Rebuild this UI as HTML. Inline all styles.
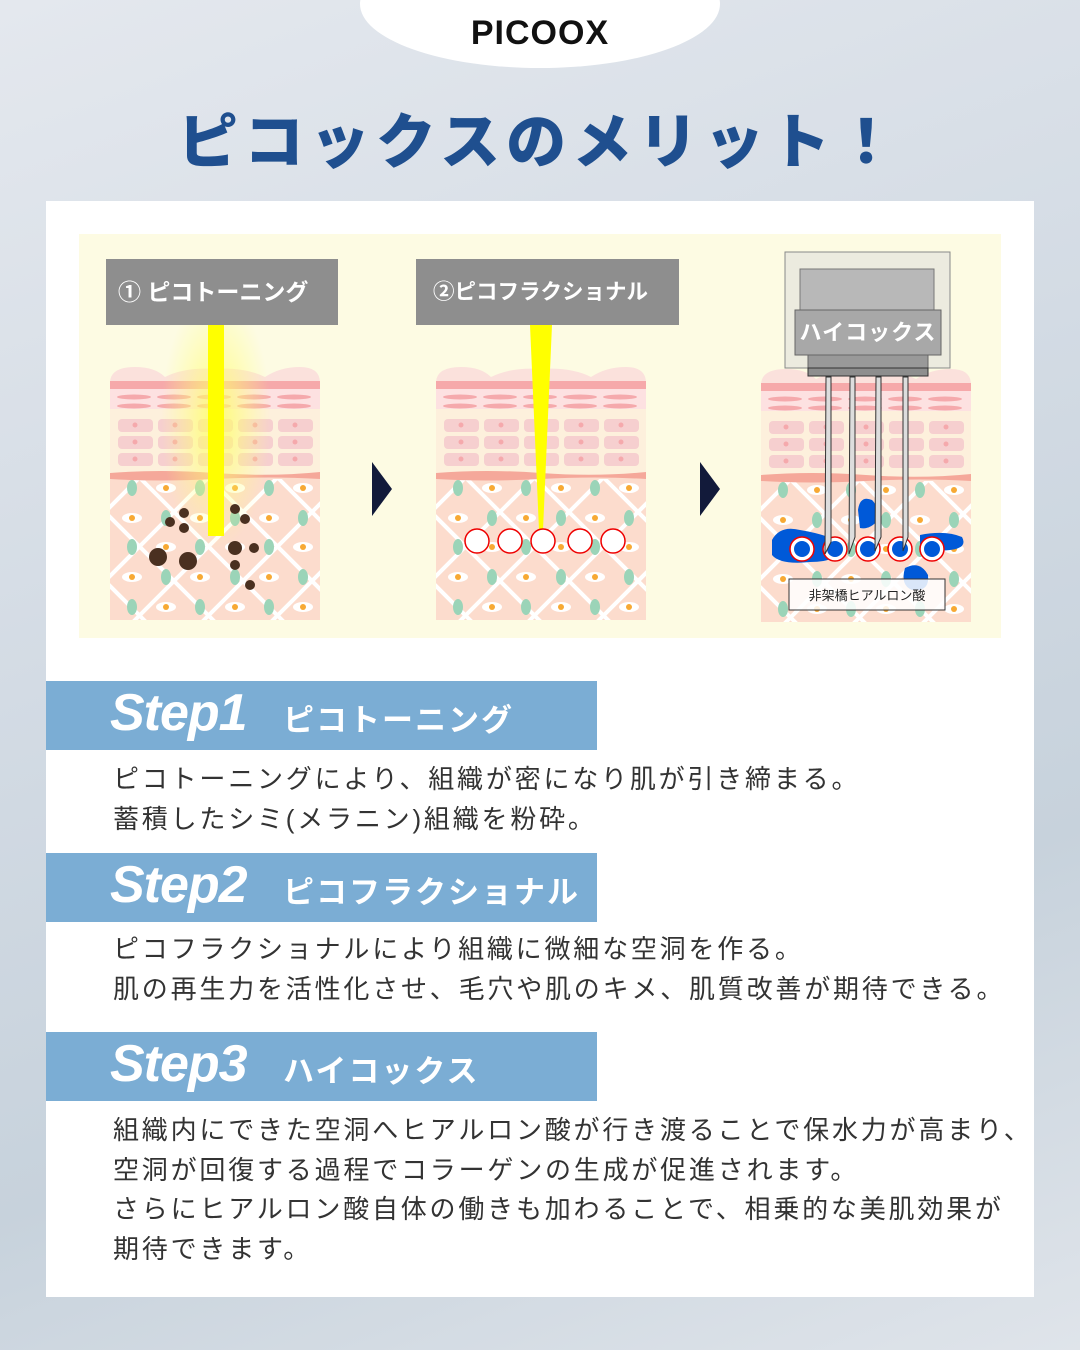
<!DOCTYPE html>
<html><head><meta charset="utf-8"><style>
*{margin:0;padding:0;box-sizing:border-box}
body{width:1080px;height:1350px;overflow:hidden;font-family:"Liberation Sans","Noto Sans CJK JP",sans-serif;background:linear-gradient(160deg,#e4e8ee 0%,#d3dbe4 40%,#c7d2dc 70%,#dfe4ea 100%);position:relative}
.abs{position:absolute}
.hdr{left:360px;top:-60px;width:360px;height:128px;border-radius:50%;background:#fff}
.pic{left:0;width:1080px;top:14px;text-align:center;font-size:34px;font-weight:bold;color:#111;letter-spacing:1px}
.title{left:0;width:1080px;top:94px;text-align:center;font-size:60px;font-weight:900;color:#1f4f8f;letter-spacing:6px}
.panel{left:46px;top:201px;width:988px;height:1096px;background:#fff}
.cream{left:79px;top:234px;width:922px;height:404px;background:#fdfbe3}
.lab{background:#8e8e8e;color:#fff;font-weight:bold;line-height:66px;height:66px;white-space:nowrap;overflow:hidden}
.bar{left:46px;width:551px;height:69px;background:#7badd4;color:#fff}
.bar .s{position:absolute;left:64px;top:2px;font-size:52px;font-weight:bold;font-style:italic;letter-spacing:-1px}
.bar .j{position:absolute;left:237px;top:14px;font-size:31px;font-weight:bold;letter-spacing:2px;white-space:nowrap}
.txt{left:113px;font-size:26px;color:#333;line-height:39.5px;letter-spacing:2.8px;white-space:nowrap}
</style></head><body>
<div class="abs hdr"></div>
<div class="abs pic">PICOOX</div>
<div class="abs title">ピコックスのメリット！</div>
<div class="abs panel"></div>
<div class="abs cream"></div>

<svg class="abs" style="left:0;top:0" width="1080" height="700">
<defs>
<radialGradient id="glow" cx="0.5" cy="0.5" r="0.5"><stop offset="0" stop-color="#ffff60" stop-opacity="0.85"/><stop offset="1" stop-color="#ffff80" stop-opacity="0"/></radialGradient>
<clipPath id="dc"><rect x="0" y="112" width="210" height="141"/></clipPath>
<g id="skin">
<path d="M0 16 Q0 0 25 0 Q45 0 55 10 Q75 0 105 2 Q135 0 155 10 Q170 0 190 0 Q210 0 210 16Z" fill="#fbe1dc"/>
<rect x="0" y="14" width="210" height="8" fill="#f6a9aa"/>
<rect x="0" y="22" width="210" height="20" fill="#fde1e1"/>
<g fill="#f5a9ac">
<ellipse cx="24" cy="30" rx="17" ry="2.5"/><ellipse cx="64" cy="30" rx="17" ry="2.5"/><ellipse cx="104" cy="30" rx="17" ry="2.5"/><ellipse cx="144" cy="30" rx="17" ry="2.5"/><ellipse cx="184" cy="30" rx="17" ry="2.5"/>
<ellipse cx="24" cy="39" rx="17" ry="2.5"/><ellipse cx="64" cy="39" rx="17" ry="2.5"/><ellipse cx="104" cy="39" rx="17" ry="2.5"/><ellipse cx="144" cy="39" rx="17" ry="2.5"/><ellipse cx="184" cy="39" rx="17" ry="2.5"/>
</g>
<rect x="0" y="42" width="210" height="68" fill="#fdf0dc"/>
<g fill="#f6cfcf">
<rect x="8" y="52" width="35" height="13" rx="4"/><rect x="48" y="52" width="35" height="13" rx="4"/><rect x="88" y="52" width="35" height="13" rx="4"/><rect x="128" y="52" width="35" height="13" rx="4"/><rect x="168" y="52" width="35" height="13" rx="4"/>
<rect x="8" y="69" width="35" height="13" rx="4"/><rect x="48" y="69" width="35" height="13" rx="4"/><rect x="88" y="69" width="35" height="13" rx="4"/><rect x="128" y="69" width="35" height="13" rx="4"/><rect x="168" y="69" width="35" height="13" rx="4"/>
<rect x="8" y="86" width="35" height="13" rx="4"/><rect x="48" y="86" width="35" height="13" rx="4"/><rect x="88" y="86" width="35" height="13" rx="4"/><rect x="128" y="86" width="35" height="13" rx="4"/><rect x="168" y="86" width="35" height="13" rx="4"/>
</g>
<g fill="#f5a9ac">
<circle cx="25" cy="58" r="2.5"/><circle cx="65" cy="58" r="2.5"/><circle cx="105" cy="58" r="2.5"/><circle cx="145" cy="58" r="2.5"/><circle cx="185" cy="58" r="2.5"/>
<circle cx="25" cy="75" r="2.5"/><circle cx="65" cy="75" r="2.5"/><circle cx="105" cy="75" r="2.5"/><circle cx="145" cy="75" r="2.5"/><circle cx="185" cy="75" r="2.5"/>
<circle cx="25" cy="92" r="2.5"/><circle cx="65" cy="92" r="2.5"/><circle cx="105" cy="92" r="2.5"/><circle cx="145" cy="92" r="2.5"/><circle cx="185" cy="92" r="2.5"/>
</g>
<rect x="0" y="110" width="210" height="143" fill="#fcdccd"/>
<g clip-path="url(#dc)" stroke="#fff" stroke-width="4">
<path d="M-120 260 L40 100 M-51 260 L109 100 M18 260 L178 100 M87 260 L247 100 M156 260 L316 100 M225 260 L385 100"/>
<path d="M-50 100 L110 260 M19 100 L179 260 M88 100 L248 260 M157 100 L317 260 M-119 100 L41 260"/>
</g>
<g fill="#9bd4b8">
<ellipse cx="22" cy="121" rx="5" ry="8"/><ellipse cx="90" cy="121" rx="5" ry="8"/><ellipse cx="159" cy="121" rx="5" ry="8"/>
<ellipse cx="56" cy="151" rx="5" ry="8"/><ellipse cx="125" cy="151" rx="5" ry="8"/><ellipse cx="193" cy="151" rx="5" ry="8"/>
<ellipse cx="22" cy="180" rx="5" ry="8"/><ellipse cx="90" cy="180" rx="5" ry="8"/><ellipse cx="159" cy="180" rx="5" ry="8"/>
<ellipse cx="56" cy="210" rx="5" ry="8"/><ellipse cx="125" cy="210" rx="5" ry="8"/><ellipse cx="193" cy="210" rx="5" ry="8"/>
<ellipse cx="22" cy="240" rx="5" ry="8"/><ellipse cx="90" cy="240" rx="5" ry="8"/><ellipse cx="159" cy="240" rx="5" ry="8"/>
</g>
<g fill="#fff">
<ellipse cx="56" cy="121" rx="10" ry="5"/><ellipse cx="125" cy="121" rx="10" ry="5"/><ellipse cx="193" cy="121" rx="10" ry="5"/>
<ellipse cx="22" cy="151" rx="10" ry="5"/><ellipse cx="90" cy="151" rx="10" ry="5"/><ellipse cx="159" cy="151" rx="10" ry="5"/>
<ellipse cx="56" cy="180" rx="10" ry="5"/><ellipse cx="125" cy="180" rx="10" ry="5"/><ellipse cx="193" cy="180" rx="10" ry="5"/>
<ellipse cx="22" cy="210" rx="10" ry="5"/><ellipse cx="90" cy="210" rx="10" ry="5"/><ellipse cx="159" cy="210" rx="10" ry="5"/>
<ellipse cx="56" cy="240" rx="10" ry="5"/><ellipse cx="125" cy="240" rx="10" ry="5"/><ellipse cx="193" cy="240" rx="10" ry="5"/>
</g>
<g fill="#f7a934">
<circle cx="56" cy="121" r="3"/><circle cx="125" cy="121" r="3"/><circle cx="193" cy="121" r="3"/>
<circle cx="22" cy="151" r="3"/><circle cx="90" cy="151" r="3"/><circle cx="159" cy="151" r="3"/>
<circle cx="56" cy="180" r="3"/><circle cx="125" cy="180" r="3"/><circle cx="193" cy="180" r="3"/>
<circle cx="22" cy="210" r="3"/><circle cx="90" cy="210" r="3"/><circle cx="159" cy="210" r="3"/>
<circle cx="56" cy="240" r="3"/><circle cx="125" cy="240" r="3"/><circle cx="193" cy="240" r="3"/>
</g>
<path d="M0 106 Q50 102 105 106 T210 105 L210 112 Q160 109 105 112 T0 112Z" fill="#f5a89a"/>
</g>
</defs>

<!-- panel 1 -->
<use href="#skin" x="110" y="367"/>
<ellipse cx="216" cy="420" rx="55" ry="130" fill="url(#glow)"/>
<rect x="208" y="325" width="16" height="211" fill="#ffff00"/>
<g fill="#4a3020">
<circle cx="170" cy="522" r="5"/><circle cx="184" cy="513" r="5"/><circle cx="184" cy="528" r="5"/>
<circle cx="158" cy="557" r="9"/><circle cx="188" cy="561" r="9"/>
<circle cx="235" cy="509" r="5"/><circle cx="245" cy="519" r="5"/>
<circle cx="235" cy="548" r="7"/><circle cx="254" cy="548" r="5"/><circle cx="235" cy="565" r="5"/><circle cx="250" cy="585" r="5"/>
</g>

<!-- panel 2 -->
<use href="#skin" x="436" y="367"/>
<polygon points="530,325 552,325 543,530 539,530" fill="#ffff00"/>
<g fill="#fff" stroke="#e00" stroke-width="1.5">
<circle cx="477" cy="541" r="12"/><circle cx="510" cy="541" r="12"/><circle cx="543" cy="541" r="12"/><circle cx="580" cy="541" r="12"/><circle cx="613" cy="541" r="12"/>
</g>

<!-- panel 3 -->
<use href="#skin" x="761" y="369"/>
<g fill="#0059d8">
<path d="M772 540 Q780 525 800 530 Q830 535 845 545 Q840 562 810 562 Q780 565 772 555Z"/>
<path d="M858 510 Q860 495 872 500 Q880 508 878 520 Q870 530 860 528Z"/>
<path d="M920 535 Q945 530 962 537 Q968 548 950 550 Q930 552 920 545Z"/>
<path d="M905 568 Q920 560 928 575 Q930 592 912 590 Q900 585 905 568Z"/>
</g>
<g fill="#fff" stroke="#e00" stroke-width="1.5">
<circle cx="802" cy="549" r="12"/><circle cx="835" cy="549" r="12"/><circle cx="868" cy="549" r="12"/><circle cx="900" cy="549" r="12"/><circle cx="932" cy="549" r="12"/>
</g>
<g fill="#0059d8"><circle cx="802" cy="549" r="8"/><circle cx="835" cy="549" r="8"/><circle cx="868" cy="549" r="8"/><circle cx="900" cy="549" r="8"/><circle cx="932" cy="549" r="8"/></g>
<rect x="785" y="252" width="165" height="116" fill="#ecebdf" stroke="#888"/>
<rect x="800" y="269" width="134" height="42" fill="#b8b8b8" stroke="#777"/>
<rect x="795" y="310" width="146" height="45" fill="#a8a8a8" stroke="#666"/>
<rect x="808" y="355" width="120" height="13" fill="#999" stroke="#666"/>
<rect x="808" y="368" width="120" height="8" fill="#8e8e8e" stroke="#333"/>
<g fill="#ddd" stroke="#333" stroke-width="1">
<path d="M826 377 h5 v165 l-6 12z"/><path d="M850 377 h5 v160 l-6 17z"/><path d="M876 377 h5 v160 l-6 14z"/><path d="M903 377 h5 v160 l-5 14z"/>
</g>
<text x="868" y="340" text-anchor="middle" font-size="22" font-weight="bold" fill="#fff" font-family="Liberation Sans, Noto Sans CJK JP, sans-serif" letter-spacing="1">ハイコックス</text>
<rect x="789" y="579" width="156" height="31" fill="#fff" fill-opacity="0.85" stroke="#333"/>
<text x="867" y="600" text-anchor="middle" font-size="13" fill="#222" font-family="Liberation Sans, Noto Sans CJK JP, sans-serif">非架橋ヒアルロン酸</text>

<polygon points="372,462 392,489 372,516" fill="#121a3a"/>
<polygon points="700,462 720,489 700,516" fill="#121a3a"/>
</svg>

<div class="abs lab" style="left:106px;top:259px;width:232px;padding-left:12px;font-size:23px">① ピコトーニング</div>
<div class="abs lab" style="left:416px;top:259px;width:263px;padding-left:17px;font-size:21.5px">②ピコフラクショナル</div>

<div class="abs bar" style="top:681px"><span class="s">Step1</span><span class="j">ピコトーニング</span></div>
<div class="abs txt" style="top:760px">ピコトーニングにより、組織が密になり肌が引き締まる。<br>蓄積したシミ(メラニン)組織を粉砕。</div>
<div class="abs bar" style="top:853px"><span class="s">Step2</span><span class="j">ピコフラクショナル</span></div>
<div class="abs txt" style="top:930px">ピコフラクショナルにより組織に微細な空洞を作る。<br>肌の再生力を活性化させ、毛穴や肌のキメ、肌質改善が期待できる。</div>
<div class="abs bar" style="top:1032px"><span class="s">Step3</span><span class="j">ハイコックス</span></div>
<div class="abs txt" style="top:1111px">組織内にできた空洞へヒアルロン酸が行き渡ることで保水力が高まり、<br>空洞が回復する過程でコラーゲンの生成が促進されます。<br>さらにヒアルロン酸自体の働きも加わることで、相乗的な美肌効果が<br>期待できます。</div>
</body></html>
